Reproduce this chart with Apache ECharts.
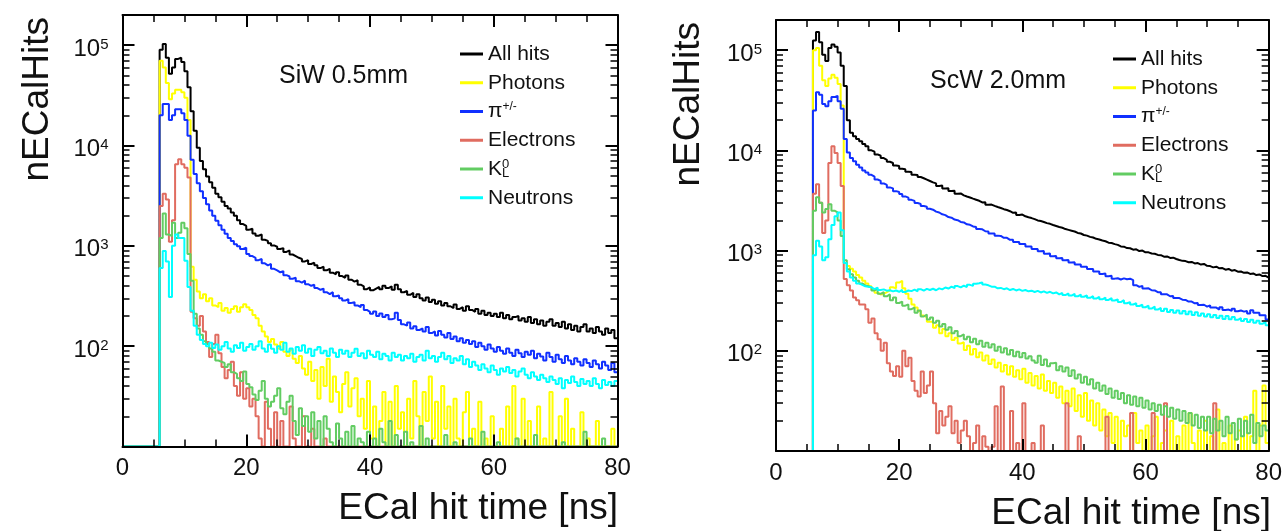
<!DOCTYPE html>
<html><head><meta charset="utf-8">
<script src="https://cdn.jsdelivr.net/npm/echarts@6/dist/echarts.min.js"></script>
<style>html,body{margin:0;padding:0;background:#fff}#c{width:1285px;height:531px}</style>
</head><body><div id="c"></div>
<script>
// ---------------- data ----------------
const BIN_WIDTH = 0.5;            // ns per histogram bin (bins start at 0 ns)
const X_MIN = 0, X_MAX = 80;
const Y_MIN = 10, Y_MAX = 200000;
const xTickInterval = 20;
const seriesNames = ['All hits','Photons','π+/-','Electrons','K0L','Neutrons'];
const panelTitles = ['SiW 0.5mm','ScW 2.0mm'];
const xAxisTitle = 'ECal hit time [ns]';
const yAxisTitle = 'nECalHits';

// ---- SiW 0.5mm ----
const siwAllHits = [
0,0,0,0,0,0,0,0,0,0,
0,0,90000,103000,75000,52000,60000,73000,75000,68000,
55000,38000,22000,14000,9500,7000,5800,4900,4300,3800,
3300,3050,2750,2500,2350,2150,2000,1800,1650,1580,
1450,1480,1330,1260,1300,1150,1120,1060,1010,980,
930,950,870,900,820,790,760,740,700,720,
660,680,640,600,620,570,590,540,520,545,
500,480,505,460,440,455,410,395,370,385,
360,375,390,370,400,380,395,365,410,370,
345,355,325,340,310,330,300,285,305,275,
290,265,280,255,270,250,240,260,235,245,
225,250,230,220,235,210,225,205,215,200,
210,195,215,190,205,185,195,200,180,190,
175,195,170,185,165,180,160,175,185,160,
170,155,175,150,165,145,160,140,155,165,
140,150,135,155,140,130,150,135,145,120];
const siwPhotons = [
0,0,0,0,0,0,0,0,0,0,
0,0,70000,60000,42000,29000,33000,36000,36000,34000,
30000,18000,620,460,350,300,330,280,300,255,
245,270,225,240,215,235,250,220,245,262,
245,230,205,190,160,140,125,110,118,104,
95,110,88,80,92,75,68,80,60,52,
70,45,58,30,62,40,75,28,50,35,
22,42,55,25,38,48,20,30,15,45,
12,25,0,18,35,10,28,0,40,15,
22,0,30,12,45,20,0,35,18,50,
12,28,0,40,15,25,0,30,12,0,
22,35,0,15,0,28,0,12,0,20,
0,0,15,0,25,0,40,12,0,30,
0,18,0,0,25,0,12,0,35,0,
0,20,0,30,0,15,0,0,22,0,
12,0,0,18,0,0,10,0,15,0];
const siwPions = [
0,0,0,0,0,0,0,0,0,0,
0,0,20000,26000,26000,18000,20000,23000,23000,21000,
18000,12500,7200,5200,4200,3500,3000,2600,2250,2000,
1780,1600,1450,1320,1200,1120,1040,990,930,960,
830,790,760,720,740,670,640,660,590,570,
545,560,510,495,470,480,445,430,450,415,
400,410,380,365,375,345,330,345,315,320,
300,285,295,270,275,255,245,258,230,220,
210,222,200,212,195,205,185,190,215,182,
165,160,172,150,158,145,150,140,155,135,
140,128,142,130,122,135,118,125,112,120,
108,115,105,112,98,108,100,92,104,95,
88,98,90,84,95,86,80,92,85,78,
88,82,90,76,84,79,72,86,78,70,
82,74,68,80,72,66,76,70,64,74,
68,62,72,66,60,70,64,58,68,55];
const siwElectrons = [
0,0,0,0,0,0,0,0,0,0,
0,0,2500,3300,2900,1100,1800,6500,7300,6500,
6000,4800,220,190,160,200,140,110,78,105,
130,85,62,48,58,70,40,32,55,30,
38,25,30,20,12,0,28,15,0,22,
0,18,0,0,25,12,0,0,20,0,
0,15,0,0,0,12,0,0,0,0,
0,0,0,0,0,0,0,0,0,0,
0,0,0,0,0,0,0,0,0,0,
0,0,0,0,0,0,0,0,0,0,
0,0,0,0,0,0,0,0,0,0,
0,0,0,0,0,0,0,0,0,0,
0,0,0,0,0,0,0,0,0,0,
0,0,0,0,0,0,0,0,0,0,
0,0,0,0,0,0,0,0,0,0,
0,0,0,0,0,0,0,0,0,0];
const siwK0L = [
0,0,0,0,0,0,0,0,0,0,
0,0,1200,2100,1300,1250,1700,1200,1350,1700,
1500,830,450,210,150,130,112,105,95,88,
72,70,68,62,66,55,53,48,45,56,
42,39,33,29,36,45,30,25,28,32,
38,24,21,28,32,18,13,24,16,20,
14,22,12,18,10,20,15,11,0,17,
12,0,14,10,16,0,12,11,0,14,
0,12,0,15,11,0,18,0,13,0,
0,14,0,11,0,0,16,0,12,0,
0,10,0,0,13,0,0,11,0,0,
0,0,12,0,0,0,14,0,0,0,
0,11,0,0,0,0,0,12,0,0,
0,0,0,13,0,0,0,0,0,0,
0,0,11,0,0,0,0,0,0,14,
0,0,0,0,0,12,0,0,0,0];
const siwNeutrons = [
0,0,0,0,0,0,0,0,0,0,
0,0,600,890,700,310,1000,1300,1200,1200,
710,390,225,160,130,115,105,100,108,96,
104,92,100,110,95,88,102,96,108,90,
98,105,92,100,112,95,88,104,94,86,
100,92,108,88,95,84,98,90,102,86,
94,80,92,98,85,90,80,95,86,78,
92,84,90,78,86,94,80,85,76,90,
82,78,88,74,84,80,72,86,78,82,
72,80,76,84,70,78,82,72,90,76,
80,70,78,86,74,80,68,76,72,80,
66,74,62,70,64,58,66,60,55,64,
58,52,60,56,62,54,58,50,56,60,
52,48,55,50,46,52,48,44,50,46,
42,48,38,46,43,50,44,40,47,42,
45,40,48,42,38,46,41,44,40,45];

// ---- ScW 2.0mm ----
const scwAllHits = [
0,0,0,0,0,0,0,0,0,0,
0,0,125000,152000,120000,90000,78000,105000,114000,108000,
95000,70000,44000,20000,15000,13800,13000,12300,11600,11000,
10000,9700,9120,8840,8380,8060,7690,7480,7080,6990,
6560,6490,6120,6080,5720,5680,5420,5270,5110,4950,
4790,4680,4420,4450,4170,4180,3930,3950,3700,3720,
3560,3470,3390,3300,3220,3140,3020,3030,2870,2880,
2790,2720,2660,2590,2540,2470,2380,2400,2260,2290,
2200,2150,2110,2060,2000,1970,1930,1880,1850,1800,
1760,1720,1690,1640,1610,1580,1550,1500,1480,1430,
1410,1370,1350,1310,1290,1260,1240,1200,1190,1160,
1140,1100,1095,1060,1055,1020,1030,990,1000,960,
960,935,930,905,900,870,875,845,850,825,
805,790,785,765,770,745,750,725,735,705,
700,680,690,665,670,645,655,630,640,615,
618,600,605,585,592,570,578,556,560,538];
const scwPhotons = [
0,0,0,0,0,0,0,0,0,0,
0,0,100000,105000,70000,50000,44000,52000,57000,53000,
46000,28000,750,700,660,620,570,540,500,470,
440,410,380,365,370,385,400,430,420,480,
500,420,370,330,290,270,250,225,215,195,
195,170,180,150,165,140,150,128,135,118,
122,102,112,92,104,86,96,80,90,74,
82,68,76,62,72,58,70,55,64,52,
66,48,60,45,56,42,58,40,50,38,
48,34,44,30,40,28,42,25,36,22,
38,20,32,18,30,16,26,14,24,12,
22,0,20,14,18,0,24,12,16,0,
18,0,14,22,0,12,16,0,20,0,
14,0,18,0,24,12,0,16,0,20,
0,14,0,26,0,12,0,18,0,13,
16,0,22,0,14,40,0,18,45,12];
const scwPions = [
0,0,0,0,0,0,0,0,0,0,
0,0,25000,38000,36000,29000,27500,31000,34000,35000,
31000,26000,13000,9500,8400,7800,7200,6750,6300,6000,
5700,5480,5120,4970,4680,4520,4270,4180,3920,3850,
3660,3470,3380,3210,3130,2980,2920,2780,2740,2610,
2560,2450,2400,2300,2260,2160,2130,2040,2010,1930,
1910,1830,1810,1740,1720,1640,1630,1560,1550,1480,
1480,1410,1400,1340,1340,1280,1280,1220,1220,1160,
1160,1100,1100,1040,1040,985,990,930,935,880,
885,840,845,800,805,760,765,725,728,690,
690,655,655,620,620,585,590,555,560,525,
530,515,528,518,524,508,452,434,445,418,
420,402,400,384,384,366,366,350,352,336,
336,324,322,310,310,298,300,286,288,276,
284,270,270,258,272,256,258,250,262,248,
252,246,250,236,254,240,240,226,226,205];
const scwElectrons = [
0,0,0,0,0,0,0,0,0,0,
0,0,3700,4600,3000,1500,2000,7500,11000,9400,
7500,4400,520,450,400,340,320,290,290,260,
190,210,150,130,100,120,75,62,56,70,
55,100,70,85,50,40,35,62,38,45,
62,30,15,25,18,22,28,15,20,12,
16,20,14,0,12,18,0,14,11,0,
11,28,0,44,10,0,25,0,12,0,
30,0,0,12,0,0,18,0,0,0,
0,0,0,0,30,0,0,0,14,0,
0,0,0,0,0,0,0,22,0,0,
0,0,0,0,0,24,0,0,0,0,
0,0,24,0,0,0,30,0,0,0,
0,0,0,0,0,0,0,0,0,0,
0,0,30,0,0,0,0,0,0,0,
0,0,0,0,0,0,0,0,0,0];
const scwK0L = [
0,0,0,0,0,0,0,0,0,0,
0,0,2500,3400,3000,2400,2600,2900,2500,2400,
2000,1400,800,650,580,540,500,470,450,440,
430,400,415,370,385,350,365,320,340,300,
310,282,290,260,270,240,252,220,230,205,
215,190,200,175,185,162,172,150,158,140,
146,130,138,122,132,116,126,110,120,108,
116,100,110,96,106,92,102,88,98,86,
95,84,88,80,76,89,72,82,70,75,
76,64,70,62,68,56,64,53,58,48,
55,46,52,42,48,40,45,37,42,34,
40,33,38,30,36,29,35,28,34,27,
32,26,30,25,29,23,28,22,27,21,
26,20,25,19,24,18,23,17,22,16,
22,15,21,16,20,14,22,15,19,13,
21,14,20,15,23,12,19,14,18,16];
const scwNeutrons = [
0,0,0,0,0,0,0,0,0,0,
0,0,900,1250,1100,800,860,1300,1800,2200,
2400,1600,750,620,540,500,470,455,440,435,
430,412,428,405,410,398,402,392,400,388,
405,386,400,394,408,392,412,398,415,404,
416,402,420,410,428,418,436,422,442,430,
448,432,455,444,466,472,482,458,450,436,
436,420,424,412,420,404,414,400,410,396,
404,392,398,386,396,382,392,378,388,374,
382,366,378,360,374,356,370,350,364,346,
356,338,350,332,346,326,340,322,336,318,
326,306,320,298,306,290,298,280,288,272,
282,264,276,258,268,250,262,244,256,240,
252,236,250,232,246,228,242,224,236,220,
232,216,228,212,224,208,222,206,218,204,
212,198,208,194,204,190,200,186,194,180];

const panelData = [
  [siwAllHits, siwPhotons, siwPions, siwElectrons, siwK0L, siwNeutrons],
  [scwAllHits, scwPhotons, scwPions, scwElectrons, scwK0L, scwNeutrons]
];

// ---------------- styles / layout ----------------
const FONT = "'Liberation Sans', Arial, Helvetica, sans-serif";
const seriesColors = ['#000000', '#ffff00', '#1030ff', '#e06c60', '#62cc62', '#00ffff'];
const grids = [
  { left: 122.5, top: 15, width: 495, height: 431.5 },
  { left: 776, top: 20, width: 495.5, height: 431 }
];
const legendPos = [ { left: 460, top: 43 }, { left: 1113, top: 48 } ];
const titlePos = [ { left: 279, top: 64 }, { left: 930, top: 69 } ];

function histData(values) {
  const pts = values.map((v, i) => [i * BIN_WIDTH, Math.max(v, Y_MIN)]);
  pts.push([X_MAX, Math.max(values[values.length - 1], Y_MIN)]);
  return pts;
}
function legendFormatter(name) {
  if (name === 'π+/-') return '{r|π}{sup|+/-}';
  if (name === 'K0L') return '{r|K}{zsup|0}{sub|L}';
  return name;
}
function frameLine() { return { show: true, onZero: false, lineStyle: { color: '#000', width: 2 } }; }
function majorTick() { return { show: true, inside: true, length: 12, lineStyle: { color: '#000', width: 2 } }; }
function minorTick(n) { return { show: true, splitNumber: n, length: 7, lineStyle: { color: '#000', width: 1.5 } }; }

const xAxes = [], yAxes = [], series = [], legends = [], titles = [];
grids.forEach((g, p) => {
  ['bottom', 'top'].forEach(pos => {
    xAxes.push({
      type: 'value', gridIndex: p, position: pos, min: X_MIN, max: X_MAX, interval: xTickInterval, z: 10,
      axisLine: frameLine(), axisTick: majorTick(), minorTick: minorTick(4),
      splitLine: { show: false }, minorSplitLine: { show: false },
      axisLabel: pos === 'bottom'
        ? { fontSize: 24, color: '#111', fontFamily: FONT, margin: 10 }
        : { show: false }
    });
  });
  ['left', 'right'].forEach(pos => {
    yAxes.push({
      type: 'log', logBase: 10, gridIndex: p, position: pos, min: Y_MIN, max: Y_MAX, z: 10,
      axisLine: frameLine(), axisTick: majorTick(), minorTick: minorTick(9),
      splitLine: { show: false }, minorSplitLine: { show: false },
      axisLabel: pos === 'left' ? {
        margin: 14, padding: [8, 0, 0, 0], color: '#111', fontFamily: FONT,
        formatter: v => {
          const e = Math.log10(v); const r = Math.round(e);
          if (Math.abs(e - r) > 1e-6 || r < 2) return '';
          return '{b|10}{s|' + r + '}';
        },
        rich: {
          b: { fontSize: 24, fontFamily: FONT, color: '#111', lineHeight: 24 },
          s: { fontSize: 15, fontFamily: FONT, color: '#111', verticalAlign: 'top', lineHeight: 12 }
        }
      } : { show: false }
    });
  });
  panelData[p].forEach((vals, k) => {
    series.push({
      type: 'line', name: seriesNames[k], xAxisIndex: p * 2, yAxisIndex: p * 2,
      data: histData(vals), step: 'end', symbol: 'none', showSymbol: false,
      color: seriesColors[k], lineStyle: { width: 2, color: seriesColors[k] },
      animation: false, clip: true, z: 2 + k, silent: true
    });
  });
  legends.push({
    orient: 'vertical', left: legendPos[p].left, top: legendPos[p].top,
    itemWidth: 23, itemHeight: 3, itemGap: 6.75, icon: 'rect', padding: 0,
    selectedMode: false, data: seriesNames, formatter: legendFormatter,
    textStyle: {
      fontSize: 21, color: '#111', fontFamily: FONT, lineHeight: 22,
      rich: {
        r: { fontSize: 21, fontFamily: FONT, color: '#111', lineHeight: 22 },
        sup: { fontSize: 12, fontFamily: FONT, color: '#111', verticalAlign: 'top', lineHeight: 10 },
        zsup: { fontSize: 13, fontFamily: FONT, color: '#111', verticalAlign: 'top', lineHeight: 10, width: 0 },
        sub: { fontSize: 13, fontFamily: FONT, color: '#111', verticalAlign: 'bottom', lineHeight: 10 }
      }
    }
  });
  titles.push({
    text: panelTitles[p], left: titlePos[p].left, top: titlePos[p].top, padding: 0,
    textStyle: { fontSize: 25, fontWeight: 'normal', color: '#111', fontFamily: FONT }
  });
});

const axisTitleStyle = { fontSize: 37, fontFamily: FONT, fill: '#111' };
const option = {
  backgroundColor: '#fff',
  animation: false,
  title: titles,
  grid: grids.map(g => Object.assign({ show: false, containLabel: false }, g)),
  xAxis: xAxes,
  yAxis: yAxes,
  legend: legends,
  series: series,
  graphic: [
    { type: 'text', x: 38, y: 17, rotation: Math.PI / 2,
      style: Object.assign({ text: yAxisTitle, align: 'right', verticalAlign: 'middle' }, axisTitleStyle) },
    { type: 'text', x: 689, y: 22, rotation: Math.PI / 2,
      style: Object.assign({ text: yAxisTitle, align: 'right', verticalAlign: 'middle' }, axisTitleStyle) },
    { type: 'text', x: 618, y: 509,
      style: Object.assign({ text: xAxisTitle, align: 'right', verticalAlign: 'middle' }, axisTitleStyle) },
    { type: 'text', x: 1271, y: 514,
      style: Object.assign({ text: xAxisTitle, align: 'right', verticalAlign: 'middle' }, axisTitleStyle) }
  ]
};
const chart = echarts.init(document.getElementById('c'), null, { renderer: 'canvas' });
chart.setOption(option);
</script>
</body></html>
